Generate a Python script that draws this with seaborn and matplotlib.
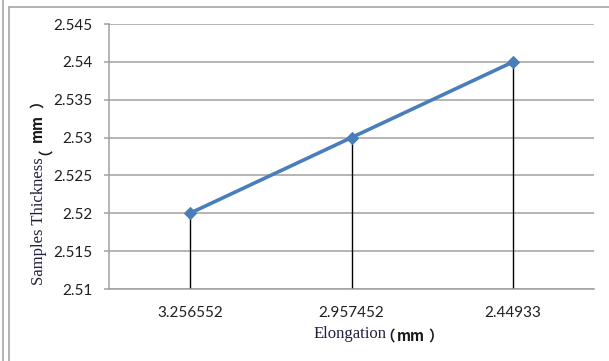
import matplotlib
matplotlib.use("Agg")
import matplotlib.pyplot as plt
import seaborn as sns
import pandas as pd
from matplotlib.lines import Line2D
from matplotlib.textpath import TextPath
from matplotlib.font_manager import FontProperties

# Data
elongation = ["3.256552", "2.957452", "2.44933"]
thickness = [2.52, 2.53, 2.54]
y_ticks = [2.51, 2.515, 2.52, 2.525, 2.53, 2.535, 2.54, 2.545]
y_tick_labels = ["2.51", "2.515", "2.52", "2.525", "2.53", "2.535", "2.54", "2.545"]
unit_pieces = ["（", "mm", "）"]

df = pd.DataFrame({"Elongation": elongation, "Thickness": thickness})

sns.set_style("white")
plt.rcParams["font.family"] = ["Lato", "DejaVu Sans"]

W, H = 609, 361
fig = plt.figure(figsize=(W / 100, H / 100), dpi=100)
PX = 100 / 72  # pixels per point


def fx(px):
    return px / W


def fy(py):
    return 1 - py / H


# Outer frame lines
border = "#a6a6a6"
fig.add_artist(Line2D([fx(2.5), fx(2.5)], [0, 1], color=border, lw=1.2, transform=fig.transFigure))
fig.add_artist(Line2D([fx(8.5), fx(8.5)], [0, fy(7)], color=border, lw=1.2, transform=fig.transFigure))
fig.add_artist(Line2D([fx(8.5), 1], [fy(7), fy(7)], color=border, lw=1.2, transform=fig.transFigure))

left, right, top, bottom = 109, 594, 24, 289
ax = fig.add_axes([fx(left), fy(bottom), (right - left) / W, (bottom - top) / H])

grid_col = "#a0a0a0"
ax.set_ylim(2.51, 2.545)
ax.set_xlim(-0.5, 2.5)
ax.set_yticks(y_ticks)
ax.set_yticklabels(y_tick_labels)
ax.yaxis.grid(True, color=grid_col, lw=1.1)
ax.set_axisbelow(True)

# Drop lines from each point down to the axis
ax.vlines(range(len(thickness)), 2.51, thickness, colors="black", lw=1.0, zorder=2)

sns.lineplot(data=df, x="Elongation", y="Thickness", sort=False, ax=ax,
             color="#4a7ebb", lw=2.6, marker="D", markersize=6,
             markeredgecolor="#4a7ebb", zorder=3)

ax.set_xticks(range(len(elongation)))
ax.set_xticklabels(elongation)
ax.set_xlabel("")
ax.set_ylabel("")

for s in ["top", "right"]:
    ax.spines[s].set_visible(False)
for s in ["left", "bottom"]:
    ax.spines[s].set_color(grid_col)
    ax.spines[s].set_linewidth(1.1)

ax.tick_params(axis="y", which="major", left=True, length=3.6, width=1.1, color=grid_col,
               labelsize=11, labelcolor="#1f1f1f", pad=8)
ax.tick_params(axis="x", which="major", bottom=False, labelsize=11, labelcolor="#1f1f1f", pad=9)

# Axis titles: serif words followed by a bold full-width unit, set piece by piece
label_col = "#202040"
unit_col = "#1a1a1a"
unit_size = 10.5
unit_prop = FontProperties(family="Noto Sans CJK SC", weight="bold", size=unit_size)
unit_kw = dict(fontproperties=unit_prop, color=unit_col)


def ink_left(s):
    """Horizontal offset (px) of a string's ink from its pen origin."""
    return TextPath((0, 0), s, size=unit_size, prop=unit_prop).get_extents().x0 * PX


fig.text(fx(387), fy(338), "Elongation", ha="right", va="baseline",
         family=["Liberation Serif"], fontsize=12, color=label_col)
for piece, x_ink in zip(unit_pieces, [390, 398, 429]):
    fig.text(fx(x_ink - ink_left(piece)), fy(341), piece, ha="left", va="baseline", **unit_kw)

fig.text(fx(39), fy(157), "Samples Thickness", ha="center", va="top", rotation=90,
         family=["Liberation Serif"], fontsize=12, color=label_col)
for piece, y_ink in zip(unit_pieces, [155, 142, 108]):
    fig.text(fx(42), fy(y_ink), piece, rotation=90, rotation_mode="anchor",
             ha="left", va="baseline", **unit_kw)

fig.savefig("out.png", dpi=100)
